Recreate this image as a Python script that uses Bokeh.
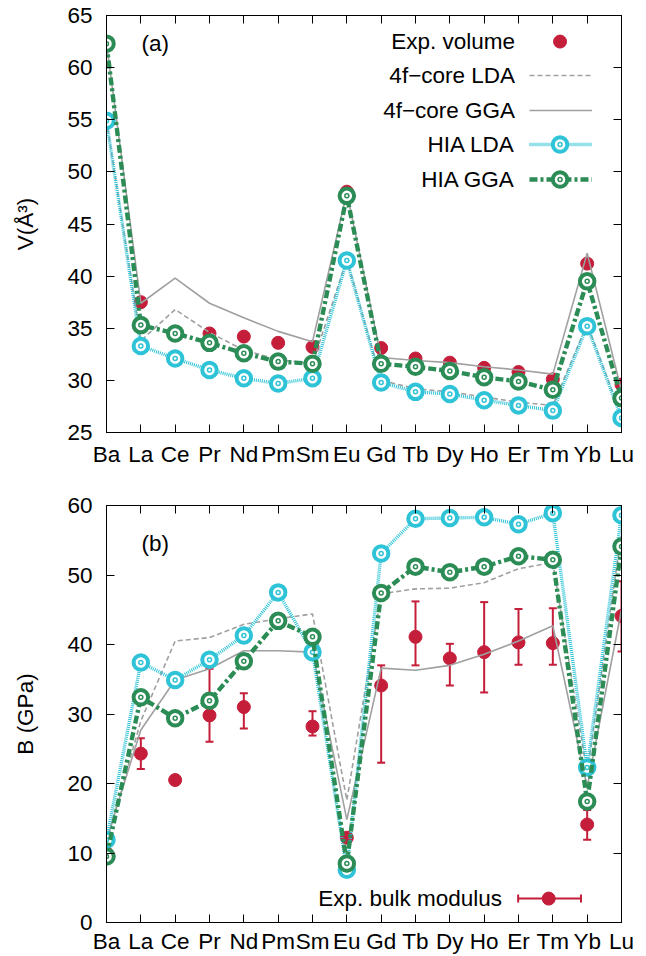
from bokeh.plotting import figure
from bokeh.layouts import column
from bokeh.models import (Range1d, LinearAxis, FixedTicker, Whisker, TeeHead,
                          ColumnDataSource)
from bokeh.embed import file_html
from bokeh.resources import INLINE

# ---------------- data ----------------
elements = ["Ba", "La", "Ce", "Pr", "Nd", "Pm", "Sm", "Eu",
            "Gd", "Tb", "Dy", "Ho", "Er", "Tm", "Yb", "Lu"]

vol_exp      = [62.3, 37.5, 34.4, 34.5, 34.2, 33.6, 33.2, 48.1, 33.1, 32.1, 31.7, 31.2, 30.8, 30.1, 41.2, 29.6]
vol_core_lda = [54.9, 33.8, 36.8, 34.6, 32.9, 32.0, 31.6, 41.6, 30.0, 29.2, 28.9, 28.4, 27.9, 27.6, 35.4, 26.6]
vol_core_gga = [62.3, 37.4, 39.8, 37.4, 36.0, 34.7, 33.7, 48.0, 32.2, 31.9, 31.7, 31.3, 31.0, 30.6, 42.2, 29.0]
vol_hia_lda  = [54.9, 33.3, 32.1, 31.0, 30.2, 29.7, 30.2, 41.5, 29.8, 28.9, 28.7, 28.1, 27.6, 27.1, 35.2, 26.4]
vol_hia_gga  = [62.3, 35.3, 34.5, 33.6, 32.6, 31.8, 31.6, 47.7, 31.6, 31.3, 30.9, 30.3, 29.9, 29.1, 39.5, 28.3]

# experimental bulk modulus (None = no data), with error bar limits
bm_exp     = [10.0, 24.3, 20.5, 29.8, 31.0, None, 28.2, 12.2, 34.1, 41.1, 38.0, 38.9, 40.3, 40.2, 14.1, 44.1]
bm_exp_lo  = [9.4, 22.1, None, 26.0, 27.9, None, 26.9, 11.5, 23.0, 37.0, 34.1, 33.1, 37.1, 37.1, 11.9, 39.0]
bm_exp_hi  = [10.6, 26.5, None, 36.5, 33.0, None, 30.4, 12.9, 37.0, 46.2, 40.1, 46.1, 45.1, 45.2, 16.2, 49.1]
bm_core_lda = [11.5, 29.0, 40.5, 41.0, 42.9, 43.7, 44.4, 17.6, 47.3, 48.0, 48.1, 48.9, 50.9, 51.8, 21.5, 56.0]
bm_core_gga = [11.9, 27.7, 34.9, 36.5, 39.1, 39.1, 38.9, 14.8, 36.6, 36.3, 37.0, 38.6, 40.5, 42.7, 19.5, 45.0]
bm_hia_lda  = [11.9, 37.4, 34.9, 37.8, 41.3, 47.5, 38.9, 7.6, 53.1, 58.1, 58.2, 58.3, 57.3, 58.9, 22.3, 58.6]
bm_hia_gga  = [9.5, 32.4, 29.4, 31.9, 37.6, 43.4, 41.1, 8.5, 47.4, 51.2, 50.4, 51.2, 52.7, 52.2, 17.4, 54.1]

vol_ticks = [25, 30, 35, 40, 45, 50, 55, 60, 65]
bm_ticks = [0, 10, 20, 30, 40, 50, 60]

# ---------------- style ----------------
FONT = "Liberation Sans"
FS = "22.5px"
RED = "#c41e3a"
CYAN = "#2ec3d6"
GREEN = "#2b8c55"
GRAY = "#a0a0a0"

xs = list(range(len(elements)))


def make_fig(height, ymin, ymax, yticks, ylabel, top, bottom, xstand):
    p = figure(width=646, height=height, output_backend="svg", toolbar_location=None,
               x_range=Range1d(0, len(elements) - 1), y_range=Range1d(ymin, ymax),
               min_border_left=106, min_border_right=25,
               min_border_top=top, min_border_bottom=bottom)
    p.grid.visible = False
    p.outline_line_color = "black"
    p.outline_line_width = 1
    p.background_fill_color = "white"
    p.border_fill_color = "white"
    xt = FixedTicker(ticks=xs)
    yt = FixedTicker(ticks=yticks)
    p.xaxis.ticker = xt
    p.yaxis.ticker = yt
    p.xaxis.major_label_overrides = {i: e for i, e in enumerate(elements)}
    for ax in (p.xaxis[0], p.yaxis[0]):
        ax.major_tick_in = 8
        ax.major_tick_out = 0
        ax.minor_tick_line_color = None
        ax.major_label_text_font = FONT
        ax.major_label_text_font_size = FS
        ax.major_label_text_color = "black"
        ax.axis_line_color = "black"
    p.xaxis.major_label_standoff = xstand
    p.yaxis.major_label_standoff = 14
    p.yaxis.axis_label = ylabel
    p.yaxis.axis_label_text_font = FONT
    p.yaxis.axis_label_text_font_size = FS
    p.yaxis.axis_label_text_font_style = "normal"
    p.yaxis.axis_label_text_color = "black"
    p.yaxis.axis_label_standoff = 26
    # mirrored ticks (no labels)
    for loc, tk, ticks in (("right", yt, yticks), ("above", xt, xs)):
        ax = LinearAxis(ticker=tk, major_tick_in=8, major_tick_out=0,
                        minor_tick_line_color=None,
                        major_label_overrides={t: "" for t in ticks},
                        major_label_standoff=0, axis_line_color="black")
        p.add_layout(ax, loc)
    return p


def ring(p, x, y, color):
    p.scatter(x, y, size=14.5, line_color=color, line_width=4, fill_color="white")
    p.scatter(x, y, size=4, line_color=color, line_width=1.5, fill_color=None)


def txt(p, x, y, s, align="right"):
    p.text(x=[x], y=[y], text=[s], text_font={"value": FONT}, text_font_size={"value": FS},
           text_align=align, text_baseline="middle", text_color="black")


# ================= panel (a) =================
p1 = make_fig(480, 25, 65, vol_ticks, "V(Å³)", 15, 48, 9)

p1.scatter(xs, vol_exp, size=13, color=RED)
p1.line(xs, vol_core_lda, line_color=GRAY, line_width=1.6, line_dash="5 3")
p1.line(xs, vol_core_gga, line_color=GRAY, line_width=1.6)
p1.line(xs, vol_hia_lda, line_color=CYAN, line_width=3.4, line_dash="1 1")
ring(p1, xs, vol_hia_lda, CYAN)
p1.line(xs, vol_hia_gga, line_color=GREEN, line_width=4.4, line_dash="8 3 3 3")
ring(p1, xs, vol_hia_gga, GREEN)

txt(p1, 1.02, 62.3, "(a)", align="left")
# legend (a)
lx0, lx1, lxm, ltx = 12.32, 14.14, 13.21, 11.9
rows = [62.5, 59.24, 55.89, 52.63, 49.27]
txt(p1, ltx, rows[0], "Exp. volume")
p1.scatter([lxm], [rows[0]], size=13, color=RED)
txt(p1, ltx, rows[1], "4f\u2212core LDA")
p1.line([lx0, lx1], [rows[1]] * 2, line_color=GRAY, line_width=1.6, line_dash="5 3")
txt(p1, ltx, rows[2], "4f\u2212core GGA")
p1.line([lx0, lx1], [rows[2]] * 2, line_color=GRAY, line_width=1.6)
txt(p1, ltx, rows[3], "HIA LDA")
p1.line([lx0, lx1], [rows[3]] * 2, line_color=CYAN, line_width=3.4, line_dash="1 1")
ring(p1, [lxm], [rows[3]], CYAN)
txt(p1, ltx, rows[4], "HIA GGA")
p1.line([lx0, lx1], [rows[4]] * 2, line_color=GREEN, line_width=4.4, line_dash="8 3 3 3")
ring(p1, [lxm], [rows[4]], GREEN)

# ================= panel (b) =================
p2 = make_fig(476, 0, 60, bm_ticks, "B (GPa)", 25, 33, 6)

ex = [x for x, v in zip(xs, bm_exp) if v is not None]
ey = [v for v in bm_exp if v is not None]
eb = [(x, lo, hi) for x, lo, hi in zip(xs, bm_exp_lo, bm_exp_hi) if lo is not None]
esrc = ColumnDataSource(dict(x=[e[0] for e in eb], lo=[e[1] for e in eb], hi=[e[2] for e in eb]))
p2.add_layout(Whisker(source=esrc, base="x", lower="lo", upper="hi",
                      line_color=RED, line_width=2,
                      upper_head=TeeHead(size=8, line_color=RED, line_width=2),
                      lower_head=TeeHead(size=8, line_color=RED, line_width=2)))
p2.scatter(ex, ey, size=13, color=RED)
p2.line(xs, bm_core_lda, line_color=GRAY, line_width=1.6, line_dash="5 3")
p2.line(xs, bm_core_gga, line_color=GRAY, line_width=1.6)
p2.line(xs, bm_hia_lda, line_color=CYAN, line_width=3.4, line_dash="1 1")
ring(p2, xs, bm_hia_lda, CYAN)
p2.line(xs, bm_hia_gga, line_color=GREEN, line_width=4.4, line_dash="8 3 3 3")
ring(p2, xs, bm_hia_gga, GREEN)

txt(p2, 1.02, 54.5, "(b)", align="left")
# legend (b)
by = 3.44
txt(p2, 11.52, by, "Exp. bulk modulus")
lsrc = ColumnDataSource(dict(y=[by], lo=[11.99], hi=[13.82]))
p2.add_layout(Whisker(source=lsrc, base="y", lower="lo", upper="hi", dimension="width",
                      line_color=RED, line_width=2,
                      upper_head=TeeHead(size=8, line_color=RED, line_width=2),
                      lower_head=TeeHead(size=8, line_color=RED, line_width=2)))
p2.scatter([12.88], [by], size=13, color=RED)

layout = column(p1, p2, spacing=0)
open("out.html", "w").write(file_html(layout, INLINE))
